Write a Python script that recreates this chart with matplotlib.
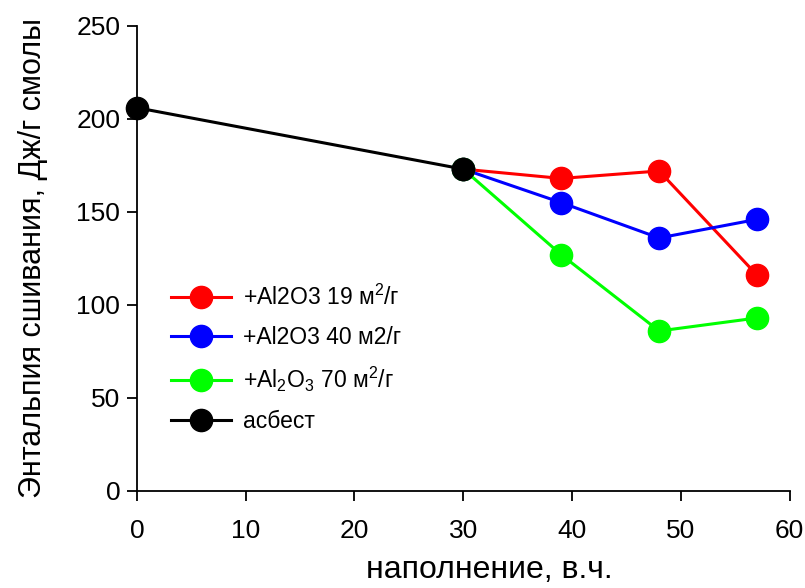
import matplotlib
matplotlib.use("Agg")
import matplotlib.pyplot as plt

plt.rcParams["font.family"] = ["Liberation Sans", "DejaVu Sans"]
plt.rcParams["mathtext.fontset"] = "custom"
plt.rcParams["mathtext.rm"] = "Liberation Sans"
plt.rcParams["mathtext.it"] = "Liberation Sans"
plt.rcParams["mathtext.default"] = "regular"

# data
X_ASB = [0, 30]
Y_ASB = [206, 173]
X_FILL = [30, 39, 48, 57]
Y_19 = [173, 168, 172, 116]
Y_40 = [173, 155, 136, 146]
Y_70 = [173, 127, 86, 93]

LABELS = ["+Al2O3 19 м$^2$/г", "+Al2O3 40 м2/г", "+Al$_2$O$_3$ 70 м$^2$/г", "асбест"]
COLORS = ["#ff0000", "#0000ff", "#00ff00", "#000000"]

fig = plt.figure(figsize=(8.05, 5.88), dpi=100)
ax = fig.add_axes([0.170, 0.165, 0.811, 0.791])

style = dict(lw=2.2, marker="o", ms=16, clip_on=False)
ax.plot(X_FILL, Y_19, color=COLORS[0], label=LABELS[0], zorder=3, **style)
ax.plot(X_FILL, Y_40, color=COLORS[1], label=LABELS[1], zorder=3, **style)
ax.plot(X_FILL, Y_70, color=COLORS[2], label=LABELS[2], zorder=3, **style)
ax.plot(X_ASB, Y_ASB, color=COLORS[3], label=LABELS[3], zorder=4, **style)

ax.set_xlim(0, 60)
ax.set_ylim(0, 250)
ax.set_xticks(range(0, 61, 10))
ax.set_yticks(range(0, 251, 50))
ax.spines["top"].set_visible(False)
ax.spines["right"].set_visible(False)
for s in ("left", "bottom"):
    ax.spines[s].set_linewidth(1.3)
ax.tick_params(direction="out", length=7, width=1.3, labelsize=19, pad=5)
ax.tick_params(axis="x", pad=13)

ax.set_xlabel("наполнение, в.ч.", fontsize=23)
ax.xaxis.set_label_coords(0.54, -0.138)
ax.set_ylabel("Энтальпия сшивания, Дж/г смолы", fontsize=22, labelpad=20)

ax.legend(loc="upper left", bbox_to_anchor=(0.201, 0.532), bbox_transform=fig.transFigure,
          frameon=False, fontsize=16.5, handlelength=2.6, labelspacing=0.7,
          handletextpad=0.55, borderaxespad=0)

fig.savefig("out.png", dpi=100)
